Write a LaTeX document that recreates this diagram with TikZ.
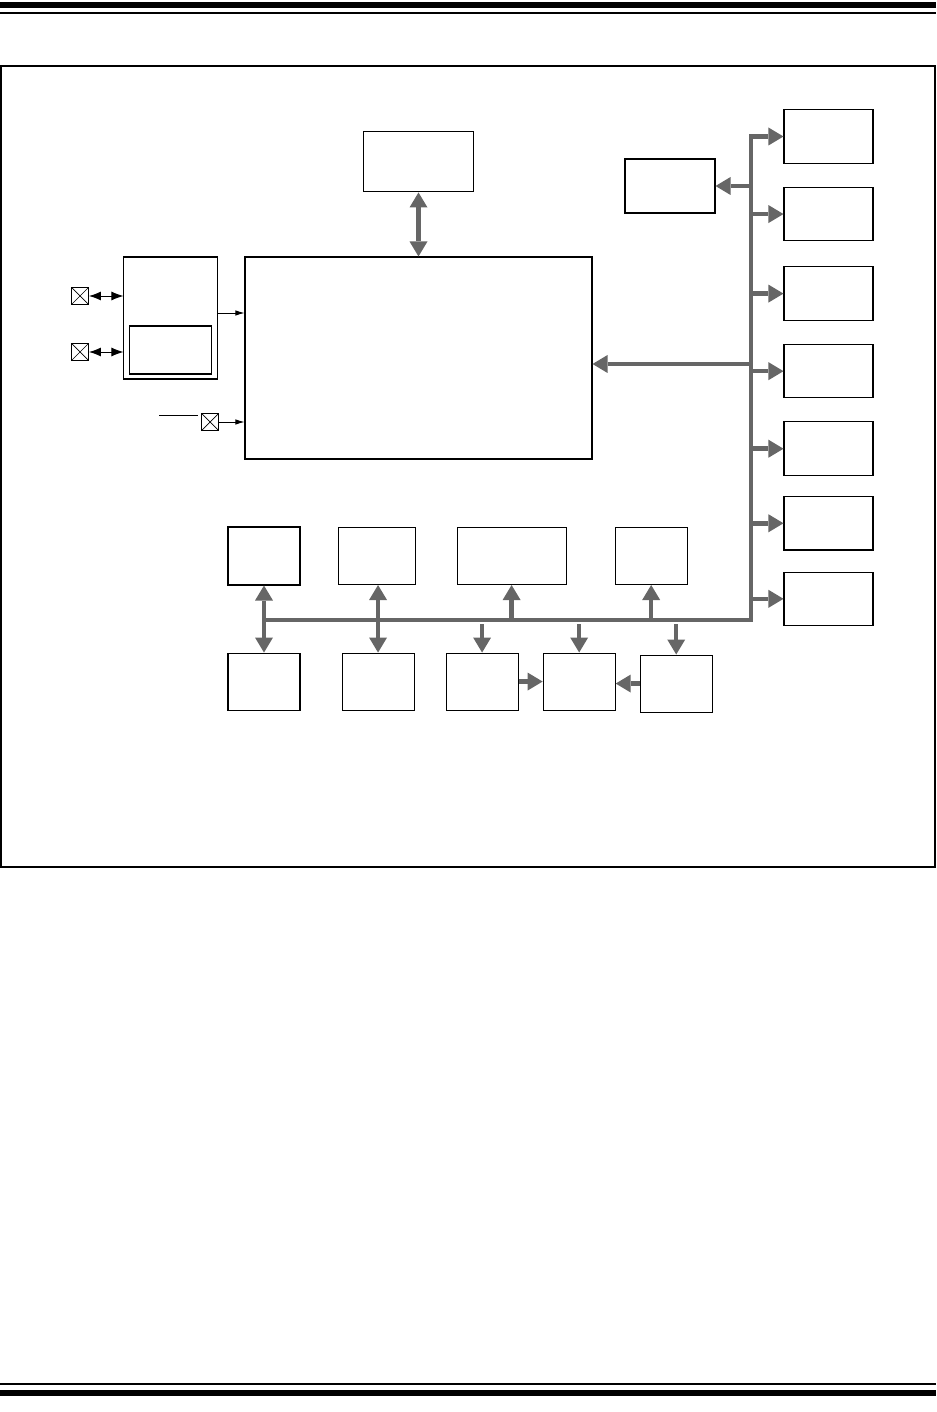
\documentclass[tikz,border=0pt]{standalone}
\usepackage{xcolor}
\usepackage{tikz}
\usetikzlibrary{arrows.meta}
\usetikzlibrary{positioning}
\definecolor{busgray}{RGB}{102,102,102}
\tikzstyle{block} = [rectangle, draw, line width=0.6pt, inner sep=0pt]
\tikzstyle{block_small} = [block, minimum width=1.44cm, minimum height=1.14cm]
\tikzstyle{block_side} = [block, minimum width=1.78cm, minimum height=1.07cm]
\tikzstyle{xpin} = [rectangle, draw, line width=0.5pt, minimum size=0.34cm, inner sep=0pt,
    path picture={\draw[line width=0.4pt] (path picture bounding box.south west) -- (path picture bounding box.north east)
    (path picture bounding box.north west) -- (path picture bounding box.south east);}]
\tikzstyle{bus} = [draw, busgray, line width=0.09cm]
\tikzstyle{busarrow} = [bus, -{Triangle[length=0.3cm,width=0.36cm,line width=0pt]}]
\tikzstyle{busdouble} = [bus, {Triangle[length=0.3cm,width=0.36cm,line width=0pt]}-{Triangle[length=0.3cm,width=0.36cm,line width=0pt]}]
\tikzstyle{line} = [draw, -{Latex[length=0.18cm,width=0.11cm]}, line width=0.5pt]
\tikzstyle{pinline} = [draw, {Latex[length=0.24cm,width=0.18cm]}-{Latex[length=0.24cm,width=0.18cm]}, line width=0.5pt]
\begin{document}
\begin{tikzpicture}[node distance = 1cm, auto]
    \useasboundingbox (0,0) rectangle (18.72,-28.24);
    % Page rules and frame
    \fill (0,-0.04) rectangle (18.72,-0.16);
    \fill (0,-0.24) rectangle (18.72,-0.28);
    \fill (0,-27.66) rectangle (18.72,-27.70);
    \fill (0,-27.80) rectangle (18.72,-27.92);
    \draw [line width=0.8pt] (0.02,-1.32) rectangle (18.70,-17.34);
    % Place nodes
    \node [block, minimum width=6.94cm, minimum height=4.04cm] (cpu) at (8.37,-7.16) {};
    \node [block, minimum width=2.2cm, minimum height=1.2cm, above=1.28cm of cpu] (flash) {};
    \node [block, minimum width=1.88cm, minimum height=2.44cm, below left=0cm and 0.52cm of cpu.north west] (osc) {};
    \node [block, minimum width=1.64cm, minimum height=0.96cm, above=0.1cm of osc.south] (pll) {};
    \node [xpin] (xin) at (1.6,-5.92) {};
    \node [xpin] (xout) at (1.6,-7.04) {};
    \node [xpin] (mclr) at (4.2,-8.44) {};
    \node [block, minimum width=1.8cm, minimum height=1.08cm] (tmr) at (13.4,-3.72) {};
    \node [block_side] (r1) at (16.57,-2.73) {};
    \node [block_side, below=0.46cm of r1] (r2) {};
    \node [block_side, below=0.5cm of r2] (r3) {};
    \node [block_side, below=0.46cm of r3] (r4) {};
    \node [block_side, below=0.46cm of r4] (r5) {};
    \node [block_side, below=0.4cm of r5] (r6) {};
    \node [block_side, below=0.42cm of r6] (r7) {};
    \node [block_small, minimum height=1.16cm] (t1) at (5.28,-11.12) {};
    \node [block_small, minimum width=1.54cm, right=0.74cm of t1] (t2) {};
    \node [block_small, minimum width=2.18cm, right=0.82cm of t2] (t3) {};
    \node [block_small, right=0.96cm of t3] (t4) {};
    \node [block_small, below=1.34cm of t1] (b1) {};
    \node [block_small, right=0.82cm of b1] (b2) {};
    \node [block_small, right=0.62cm of b2] (b3) {};
    \node [block_small, right=0.48cm of b3] (b4) {};
    \node [block_small, right=0.48cm of b4, yshift=-0.04cm] (b5) {};
    \coordinate (corner) at (15.02,-12.4);
    \coordinate (tap) at (15.02,-12.48);
    \coordinate (cpuin) at ([yshift=-0.12cm]cpu.east);
    \coordinate (oscout) at ([yshift=0.1cm]osc.east);
    \coordinate (wire) at (3.18,-8.3);
    % Draw edges
    \path [busarrow] (t1 |- corner) -- (corner) -- (r1.west -| corner) -- (r1.west);
    \path [busarrow] (r2.west -| corner) -- (r2.west);
    \path [busarrow] (r3.west -| corner) -- (r3.west);
    \path [busarrow] (r4.west -| corner) -- (r4.west);
    \path [busarrow] (r5.west -| corner) -- (r5.west);
    \path [busarrow] (r6.west -| corner) -- (r6.west);
    \path [busarrow] (r7.west -| corner) -- (r7.west);
    \path [busarrow] (tmr.east -| corner) -- (tmr.east);
    \path [busarrow] (cpuin -| corner) -- (cpuin);
    \path [busdouble] (flash.south) -- (flash.south |- cpu.north);
    \path [busdouble] (t1) -- (b1);
    \path [busdouble] (b2.north) -- (b2.north |- t2.south);
    \path [busarrow] (t3.south |- corner) -- (t3.south);
    \path [busarrow] (t4.south |- corner) -- (t4.south);
    \path [busarrow] (b3.north |- tap) -- (b3.north);
    \path [busarrow] (b4.north |- tap) -- (b4.north);
    \path [busarrow] (b5.north |- tap) -- (b5.north);
    \path [busarrow] (b3) -- (b4);
    \path [busarrow] (b5.west) -- (b5.west -| b4.east);
    \path [pinline] (xin) -- (xin -| osc.west);
    \path [pinline] (xout) -- (xout -| osc.west);
    \path [line] (oscout) -- (oscout -| cpu.west);
    \path [line] (mclr) -- (mclr -| cpu.west);
    \draw [line width=0.5pt] (wire) -- ++(0.78,0);
\end{tikzpicture}
\end{document}
